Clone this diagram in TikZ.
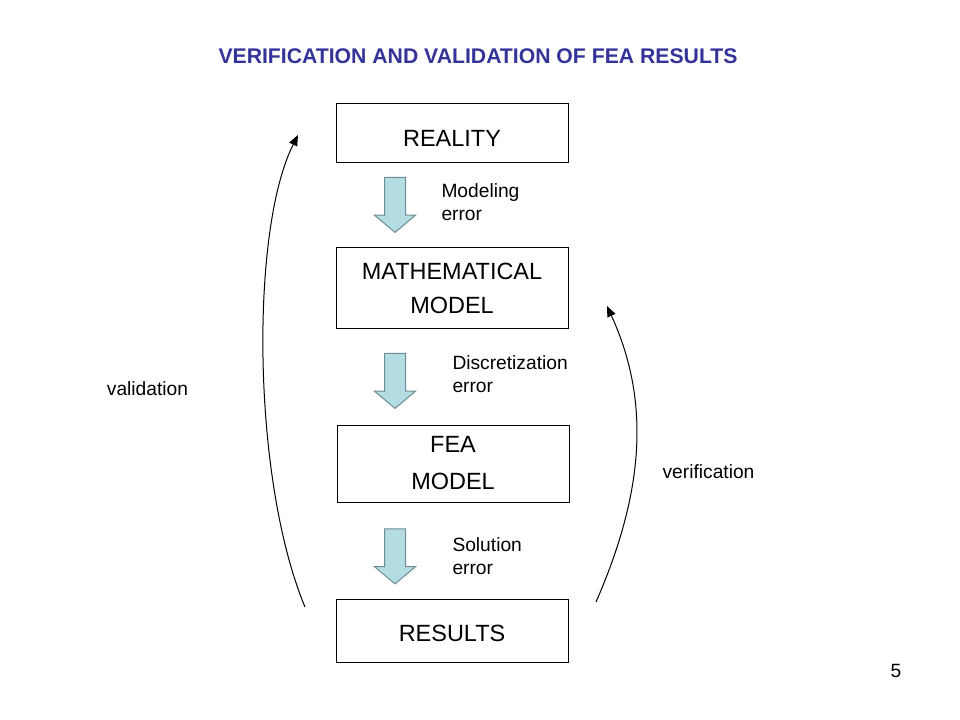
\documentclass[tikz,border=0pt]{standalone}
\usepackage{fontspec}
\setmainfont{Liberation Sans}
\usetikzlibrary{shapes.arrows,arrows.meta}

\definecolor{titleblue}{RGB}{51,51,153}
\definecolor{arrowfill}{RGB}{180,221,227}
\definecolor{arrowline}{RGB}{110,140,145}

\tikzset{every picture/.style={line width=0.75pt}}
\tikzset{
  stagebox/.style={draw, minimum width=174pt, align=center, font=\fontsize{17.6}{26}\selectfont},
  errarrow/.style={single arrow, draw=arrowline, fill=arrowfill, rotate=-90, inner xsep=0pt, inner ysep=7.5pt,
    minimum height=41.25pt, minimum width=30pt, single arrow head extend=7.5pt, single arrow tip angle=100},
  errlabel/.style={anchor=west, align=left, inner xsep=0pt, font=\fontsize{14.4}{17.25}\selectfont},
  checkline/.style={-{Triangle[length=8pt,width=6.5pt]}},
}

\begin{document}
\begin{tikzpicture}[x=0.75pt,y=0.75pt,yscale=-1,xscale=1]
\useasboundingbox (0,0) rectangle (960,720);

% Title
\node (title) at (478,56) [font=\bfseries\fontsize{15.9}{18}\selectfont, text=titleblue] {VERIFICATION AND VALIDATION OF FEA RESULTS};

%Shape: Rectangles
\node (reality) at (452,133.5) [stagebox, minimum height=44.25pt, text height=20pt, text depth=0pt] {REALITY};
\node (math) at (452,288) [stagebox, minimum height=60pt, font=\fontsize{17.6}{25.5}\selectfont] {MATHEMATICAL\\MODEL};
\node (fea) at (453,463.5) [stagebox, minimum height=57.75pt, font=\fontsize{17.6}{27.75}\selectfont] {FEA\\MODEL};
\node (results) at (452,630.5) [stagebox, minimum height=47.25pt, text height=17pt, text depth=0pt] {RESULTS};

%Shape: Down Arrows
\node (modarrow) at (395,200.5) [errarrow] {};
\node (disarrow) at (395,376.5) [errarrow] {};
\node (solarrow) at (395,552) [errarrow] {};

% Text Node
\node (modlabel) at (441,202.5) [errlabel] {Modeling\\error};
\node (dislabel) at (452,374.5) [errlabel] {Discretization\\error};
\node (sollabel) at (452,556.5) [errlabel] {Solution\\error};
\node (vallabel) at (147.5,389) [font=\fontsize{14.4}{17}\selectfont] {validation};
\node (verlabel) at (708.5,472) [font=\fontsize{14.4}{17}\selectfont] {verification};
\node (pagenum) at (896,671) [font=\fontsize{14.4}{17}\selectfont] {5};

%Curve Lines
\coordinate (valstart) at (305,607);
\coordinate (valend) at (298,135);
\coordinate (verstart) at (596,602);
\coordinate (verend) at (607,306);
\draw [checkline] (valstart) .. controls (252,480) and (250,230) .. (valend);
\draw [checkline] (verstart) .. controls (645,490) and (650,400) .. (verend);

\end{tikzpicture}
\end{document}
